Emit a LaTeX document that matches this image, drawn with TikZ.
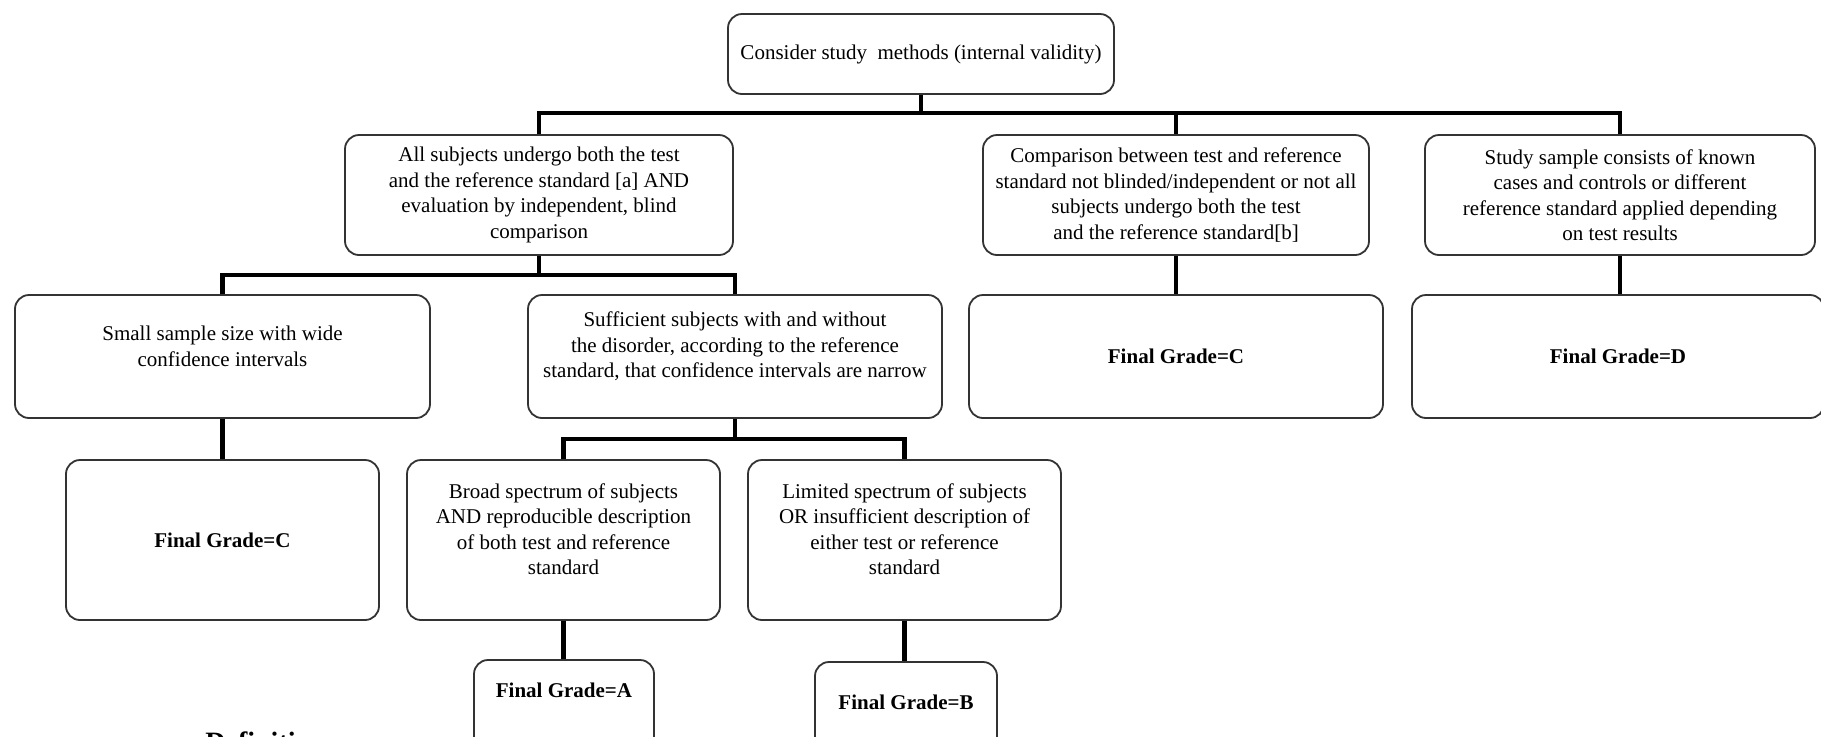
\documentclass[tikz,border=0pt]{standalone}
\usepackage{fontspec}
\setmainfont{Liberation Serif}
\usetikzlibrary{positioning}
\begin{document}
\begin{tikzpicture}[x=0.5pt, y=-0.5pt, line join=round,
	box/.style={draw=black!80, line width=0.9pt, rounded corners=7pt, align=center, inner sep=0pt, font=\fontsize{10.5}{12.75}\selectfont},
	grade/.style={box, font=\fontsize{10.5}{12.75}\selectfont\bfseries},
	txt/.style={align=center, inner sep=0pt, font=\fontsize{10.5}{12.75}\selectfont},
	conn/.style={line width=2.4pt, line join=miter, black}]
	\useasboundingbox (0,0) rectangle (1821,736);
	% Hoehen der Querbalken
	\coordinate (b1) at (0,113);
	\coordinate (b2) at (0,275);
	\coordinate (b3) at (0,439);
	% Kaesten oben
	\node[box, minimum width=193pt, minimum height=40pt] (top) at (921,54) {Consider study~ methods (internal validity)};
	\node[box, minimum width=194pt, minimum height=60pt] (all) at (539,195) {All subjects undergo both the test\\and the reference standard [a] AND\\evaluation by independent, blind\\comparison};
	\node[box, minimum width=193pt, minimum height=60pt] (comp) at (1176,195) {Comparison between test and reference\\standard not blinded/independent or not all\\subjects undergo both the test\\and the reference standard[b]};
	\node[box, minimum width=195pt, minimum height=60pt] (study) at (1620,195) {Study sample consists of known\\cases and controls or different\\reference standard applied depending\\on test results};
	% zweite Reihe
	\node[box, minimum width=207.5pt, minimum height=61.5pt, label={[txt, yshift=5pt]center:Small sample size with wide\\confidence intervals}] (small) at (222.5,356.5) {};
	\node[box, minimum width=207pt, minimum height=61.5pt, label={[txt, yshift=5pt]center:Sufficient subjects with and without\\the disorder, according to the reference\\standard, that confidence intervals are narrow}] (suff) at (735,356.5) {};
	\node[grade, minimum width=207pt, minimum height=61.5pt] (gradeCb) at (1176,356.5) {Final Grade=C};
	\node[grade, minimum width=206pt, minimum height=61.5pt] (gradeD) at (1618,356.5) {Final Grade=D};
	% dritte Reihe
	\node[grade, minimum width=156.5pt, minimum height=80pt] (gradeCa) at (222.5,540) {Final Grade=C};
	\node[box, minimum width=156.5pt, minimum height=80pt, label={[txt, yshift=5.5pt]center:Broad spectrum of subjects\\AND reproducible description\\of both test and reference\\standard}] (broad) at (563.5,540) {};
	\node[box, minimum width=156.5pt, minimum height=80pt, label={[txt, yshift=5.5pt]center:Limited spectrum of subjects\\OR insufficient description of\\either test or reference\\standard}] (limited) at (904.5,540) {};
	% unten (abgeschnitten)
	\node[box, minimum width=90pt, minimum height=45pt, label={[txt, font=\fontsize{10.5}{12.75}\selectfont\bfseries, yshift=7.5pt]center:Final Grade=A}] (gradeA) at (564,705) {};
	\node[box, minimum width=91pt, minimum height=44pt, label={[txt, font=\fontsize{10.5}{12.75}\selectfont\bfseries, yshift=2pt]center:Final Grade=B}] (gradeB) at (906,706) {};
	\node[anchor=base west, inner sep=0pt, font=\fontsize{14}{16}\selectfont\bfseries] (defs) at (205,751) {Definitions};
	% Verbindungen
	\draw[conn] (top.south) -- (top.south |- b1);
	\draw[conn] (all.north) |- (study.north |- b1) -- (study.north);
	\draw[conn] (comp.north) -- (comp.north |- b1);
	\draw[conn] (all.south) -- (all.south |- b2);
	\draw[conn] (small.north) |- (suff.north |- b2) -- (suff.north);
	\draw[conn] (suff.south) -- (suff.south |- b3);
	\draw[conn] (broad.north) |- (limited.north |- b3) -- (limited.north);
	\draw[conn] (comp.south) -- (gradeCb.north);
	\draw[conn] (study.south) -- (study.south |- gradeD.north);
	\draw[conn] (small.south) -- (gradeCa.north);
	\draw[conn] (broad.south) -- (broad.south |- gradeA.north);
	\draw[conn] (limited.south) -- (limited.south |- gradeB.north);
\end{tikzpicture}
\end{document}
